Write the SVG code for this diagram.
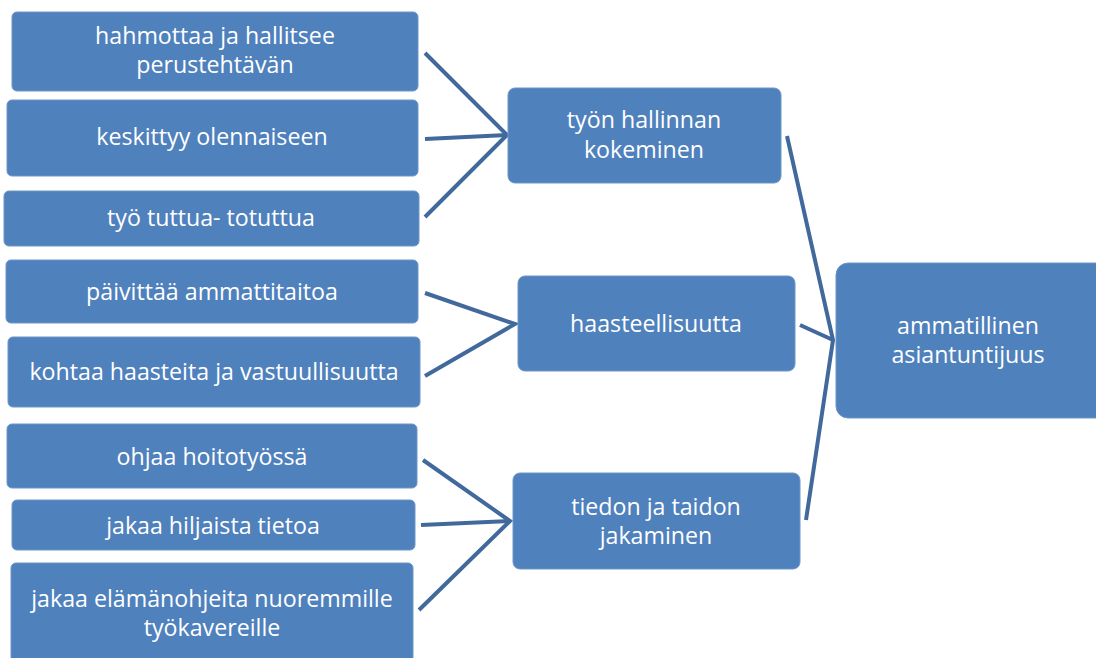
<svg xmlns="http://www.w3.org/2000/svg" width="1096" height="658" viewBox="0 0 1096 658">
<style>
.box{fill:#4F81BD;stroke:#6C95C8;stroke-width:1}
.t{font-family:"Open Sans","Noto Sans","Liberation Sans",sans-serif;font-size:23.2px;fill:#FFFFFF;text-anchor:middle}
.c{stroke:#41699C;stroke-width:4;fill:none;stroke-linejoin:miter}
</style>
<rect width="1096" height="658" fill="#FFFFFF"/>
<g id="connectors">
<polyline class="c" points="425,53 507,135 425,217"/>
<line class="c" x1="425" y1="139" x2="507" y2="135"/>
<polyline class="c" points="425,293 515,324 425,376"/>
<polyline class="c" points="423,460 510,521 419,610"/>
<line class="c" x1="421" y1="525" x2="510" y2="521"/>
<polyline class="c" points="787,136 833,340 806,520"/>
<line class="c" x1="800" y1="325" x2="833" y2="340"/>
</g>
<g id="n1"><rect class="box" x="12" y="12" width="406" height="79" rx="5"/><text class="t" x="215" y="44">hahmottaa ja hallitsee</text><text class="t" x="215" y="73">perustehtävän</text></g>
<g id="n2"><rect class="box" x="7" y="100" width="411" height="76" rx="5"/><text class="t" x="212" y="145">keskittyy olennaiseen</text></g>
<g id="n3"><rect class="box" x="4" y="191" width="415" height="55" rx="5"/><text class="t" x="211" y="226">työ tuttua- totuttua</text></g>
<g id="n4"><rect class="box" x="6" y="260" width="412" height="63" rx="5"/><text class="t" x="212" y="300">päivittää ammattitaitoa</text></g>
<g id="n5"><rect class="box" x="8" y="337" width="412" height="70" rx="5"/><text class="t" x="214" y="380">kohtaa haasteita ja vastuullisuutta</text></g>
<g id="n6"><rect class="box" x="7" y="424" width="410" height="64" rx="5"/><text class="t" x="212" y="465">ohjaa hoitotyössä</text></g>
<g id="n7"><rect class="box" x="12" y="500" width="403" height="50" rx="5"/><text class="t" x="213" y="534">jakaa hiljaista tietoa</text></g>
<g id="n8"><rect class="box" x="11" y="563" width="402" height="100" rx="5"/><text class="t" x="212" y="607">jakaa elämänohjeita nuoremmille</text><text class="t" x="212" y="636">työkavereille</text></g>
<g id="m1"><rect class="box" x="508" y="88" width="273" height="95" rx="7"/><text class="t" x="644" y="128">työn hallinnan</text><text class="t" x="644" y="158">kokeminen</text></g>
<g id="m2"><rect class="box" x="518" y="276" width="277" height="95" rx="7"/><text class="t" x="656" y="332">haasteellisuutta</text></g>
<g id="m3"><rect class="box" x="513" y="473" width="287" height="96" rx="7"/><text class="t" x="656" y="515">tiedon ja taidon</text><text class="t" x="656" y="544">jakaminen</text></g>
<g id="root"><rect class="box" x="836" y="263" width="280" height="155" rx="12"/><text class="t" x="968" y="334">ammatillinen</text><text class="t" x="968" y="363">asiantuntijuus</text></g>
</svg>
